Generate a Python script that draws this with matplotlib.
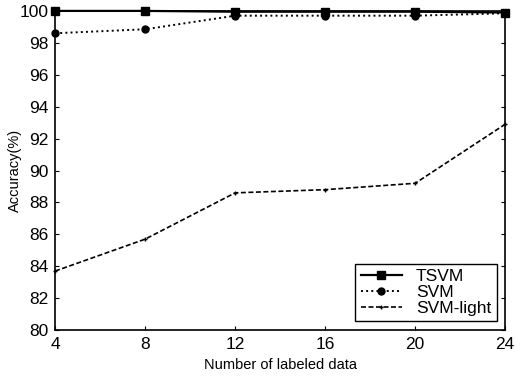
import matplotlib
matplotlib.use("Agg")
import matplotlib.pyplot as plt

plt.rcParams['font.family'] = ['Liberation Sans', 'DejaVu Sans']

# data
n_labeled = [4, 8, 12, 16, 20, 24]
acc_tsvm = [100.0, 100.0, 99.95, 99.95, 99.95, 99.9]
acc_svm = [98.6, 98.85, 99.7, 99.7, 99.7, 99.85]
acc_svm_light = [83.7, 85.7, 88.6, 88.8, 89.2, 92.9]

fig = plt.figure(figsize=(5.15, 3.76), dpi=100)
ax = fig.add_axes([0.107, 0.122, 0.874, 0.849])

ax.plot(n_labeled, acc_tsvm, color='black', linestyle='-', linewidth=1.6,
        marker='s', markersize=6, label='TSVM', clip_on=False, zorder=4)
ax.plot(n_labeled, acc_svm, color='black', linestyle=':', linewidth=1.4,
        marker='o', markersize=5, label='SVM', clip_on=False, zorder=3)
ax.plot(n_labeled, acc_svm_light, color='black', linestyle='--', linewidth=1.2,
        dashes=(3, 1.5), marker='+', markersize=3, label='SVM-light',
        clip_on=False)

ax.set_xlim(4, 24)
ax.set_ylim(80, 100)
ax.set_xticks(n_labeled)
ax.set_yticks(range(80, 101, 2))
ax.tick_params(direction='in', length=3, labelsize=12.5, top=False, right=True,
               pad=5)
for side in ax.spines.values():
    side.set_linewidth(1.2)

ax.set_xlabel('Number of labeled data', fontsize=10.5, labelpad=4)
ax.set_ylabel('Accuracy(%)', fontsize=10.5, labelpad=-2)

leg = ax.legend(loc='lower right', fontsize=12.5, fancybox=False,
                edgecolor='black', framealpha=1, handlelength=2.4,
                labelspacing=0.05, borderpad=0.3, borderaxespad=0.5)
leg.get_frame().set_linewidth(1.0)

fig.savefig('out.png', dpi=100)
